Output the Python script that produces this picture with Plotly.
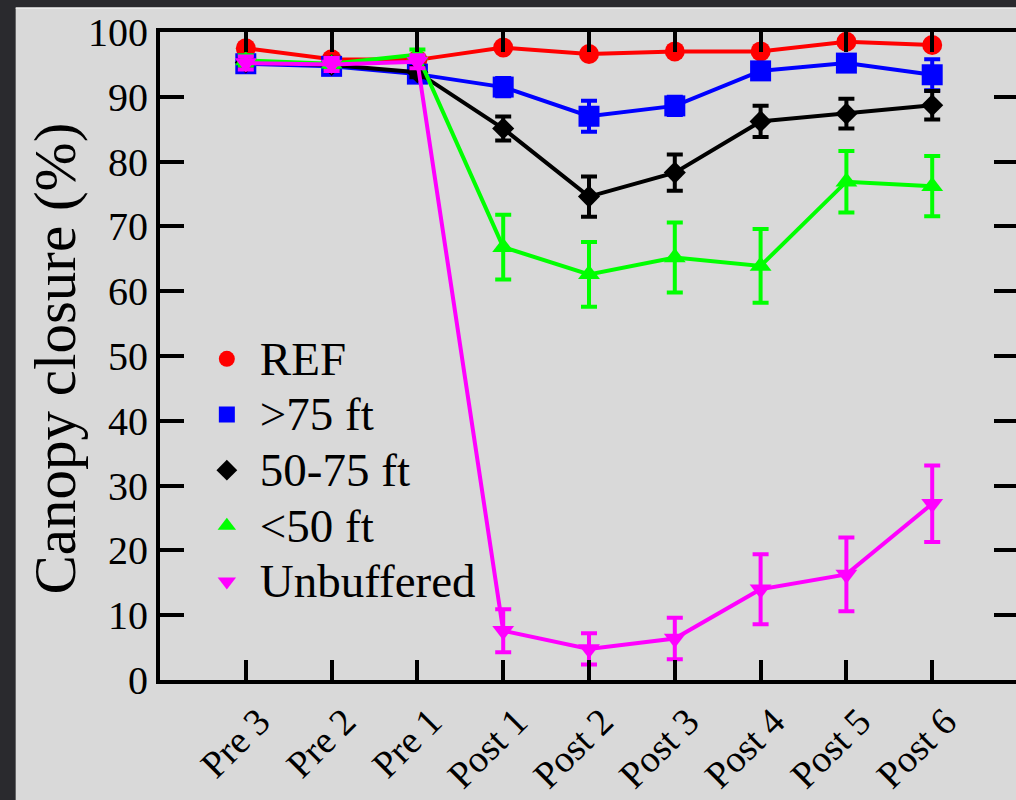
import plotly.graph_objects as go

categories = ["Pre 3", "Pre 2", "Pre 1", "Post 1", "Post 2", "Post 3", "Post 4", "Post 5", "Post 6"]

ref_vals = [97.5, 95.8, 95.7, 97.6, 96.6, 97.0, 97.0, 98.5, 98.0]
ref_err = [0, 0, 0, 0, 0, 0, 0, 0, 0]

gt75_vals = [95.1, 94.7, 93.5, 91.5, 87.0, 88.6, 94.0, 95.2, 93.4]
gt75_err = [0.8, 0.6, 0.6, 1.4, 2.4, 1.4, 1.0, 0.8, 2.4]

mid_vals = [95.3, 94.9, 93.8, 85.1, 74.6, 78.3, 86.2, 87.4, 88.7]
mid_err = [0.8, 0.7, 0.8, 1.85, 3.1, 2.8, 2.4, 2.3, 2.2]

lt50_vals = [95.6, 95.1, 96.5, 66.8, 62.6, 65.2, 63.9, 76.9, 76.2]
lt50_err = [0.8, 0.8, 0.8, 5.0, 5.0, 5.4, 5.7, 4.75, 4.65]

unbuf_vals = [95.2, 95.0, 95.4, 7.6, 4.8, 6.4, 14.0, 16.3, 27.2]
unbuf_err = [1.0, 1.0, 1.0, 3.3, 2.4, 3.2, 5.4, 5.7, 5.9]

series_names = ["REF", ">75 ft", "50-75 ft", "<50 ft", "Unbuffered"]
series_vals = [ref_vals, gt75_vals, mid_vals, lt50_vals, unbuf_vals]
series_errs = [ref_err, gt75_err, mid_err, lt50_err, unbuf_err]
series_colors = ["#ff0000", "#0000ff", "#000000", "#00ff00", "#ff00ff"]
series_symbols = ["circle", "square", "diamond", "triangle-up", "triangle-down"]
series_sizes = [20, 21, 17, 19, 19]

W, H = 1022, 800
ML, MR, MT, MB = 160, 0, 32, 120
PW = W - ML - MR
PH = H - MT - MB

fig = go.Figure()
xs = list(range(len(categories)))
for name, vals, err, color, sym, size in zip(series_names, series_vals, series_errs,
                                             series_colors, series_symbols, series_sizes):
    fig.add_trace(go.Scatter(
        x=xs, y=vals, mode="lines+markers", name=name, showlegend=False,
        line=dict(color=color, width=4),
        marker=dict(color=color, symbol=sym, size=size, line=dict(width=0)),
        error_y=dict(type="data", array=err, visible=True, color=color, thickness=4, width=8),
        cliponaxis=False,
    ))
for name, color, sym in zip(series_names, series_colors, series_symbols):
    fig.add_trace(go.Scatter(
        x=[None], y=[None], mode="markers",
        name="<span style='font-size:47px'>" + name + "</span>", showlegend=True,
        marker=dict(color=color, symbol=sym, size=16, line=dict(width=0)),
    ))

def px_to_paper_x(px):
    return (px - ML) / PW

def px_to_paper_y(py):
    return (H - MB - py) / PH

fig.add_shape(type="rect", xref="paper", yref="paper",
              x0=px_to_paper_x(15), x1=px_to_paper_x(1060),
              y0=px_to_paper_y(830), y1=px_to_paper_y(8),
              fillcolor="#d9d9d9", line=dict(width=0), layer="below")
fig.add_shape(type="line", xref="paper", yref="paper",
              x0=px_to_paper_x(15), x1=px_to_paper_x(1060),
              y0=px_to_paper_y(8), y1=px_to_paper_y(8),
              line=dict(color="#efefef", width=1.5), layer="below")

font_fam = "Liberation Serif, Times New Roman, serif"

fig.add_annotation(text="Canopy closure (%)", xref="paper", yref="paper",
                   x=px_to_paper_x(55), y=px_to_paper_y(358), xanchor="center", yanchor="middle",
                   textangle=-90, showarrow=False,
                   font=dict(size=59, family=font_fam, color="black"))

fig.update_layout(
    width=W, height=H,
    margin=dict(l=ML, r=MR, t=MT, b=MB, pad=0),
    paper_bgcolor="#2a2a2e",
    plot_bgcolor="#d9d9d9",
    font=dict(family=font_fam, color="black", size=40),
    showlegend=True,
    legend=dict(x=px_to_paper_x(194), y=px_to_paper_y(326), xanchor="left", yanchor="top",
                bgcolor="rgba(0,0,0,0)", font=dict(size=40.5, family=font_fam, color="black"),
                tracegroupgap=0, itemwidth=56),
    xaxis=dict(
        range=[-1, 9], tickmode="array", tickvals=xs, ticktext=categories,
        tickangle=-45, ticks="inside", ticklen=20, tickwidth=4, tickcolor="black",
        showline=True, linewidth=4, linecolor="black", mirror="ticks",
        showgrid=False, zeroline=False, tickfont=dict(size=38, family=font_fam),
        ticklabelshift=13,
    ),
    yaxis=dict(
        range=[0, 100], tickmode="array", tickvals=list(range(0, 101, 10)),
        ticks="inside", ticklen=24, tickwidth=4, tickcolor="black",
        showline=True, linewidth=4, linecolor="black", mirror="ticks",
        showgrid=False, zeroline=False, tickfont=dict(size=40, family=font_fam),
    ),
)

fig.write_html("out.html", config={"displayModeBar": False}, post_script=(
    "document.documentElement.style.overflow='hidden';"
    "document.body.style.margin='0';document.body.style.overflow='hidden';"
    "document.body.style.background='#2a2a2e';"))
